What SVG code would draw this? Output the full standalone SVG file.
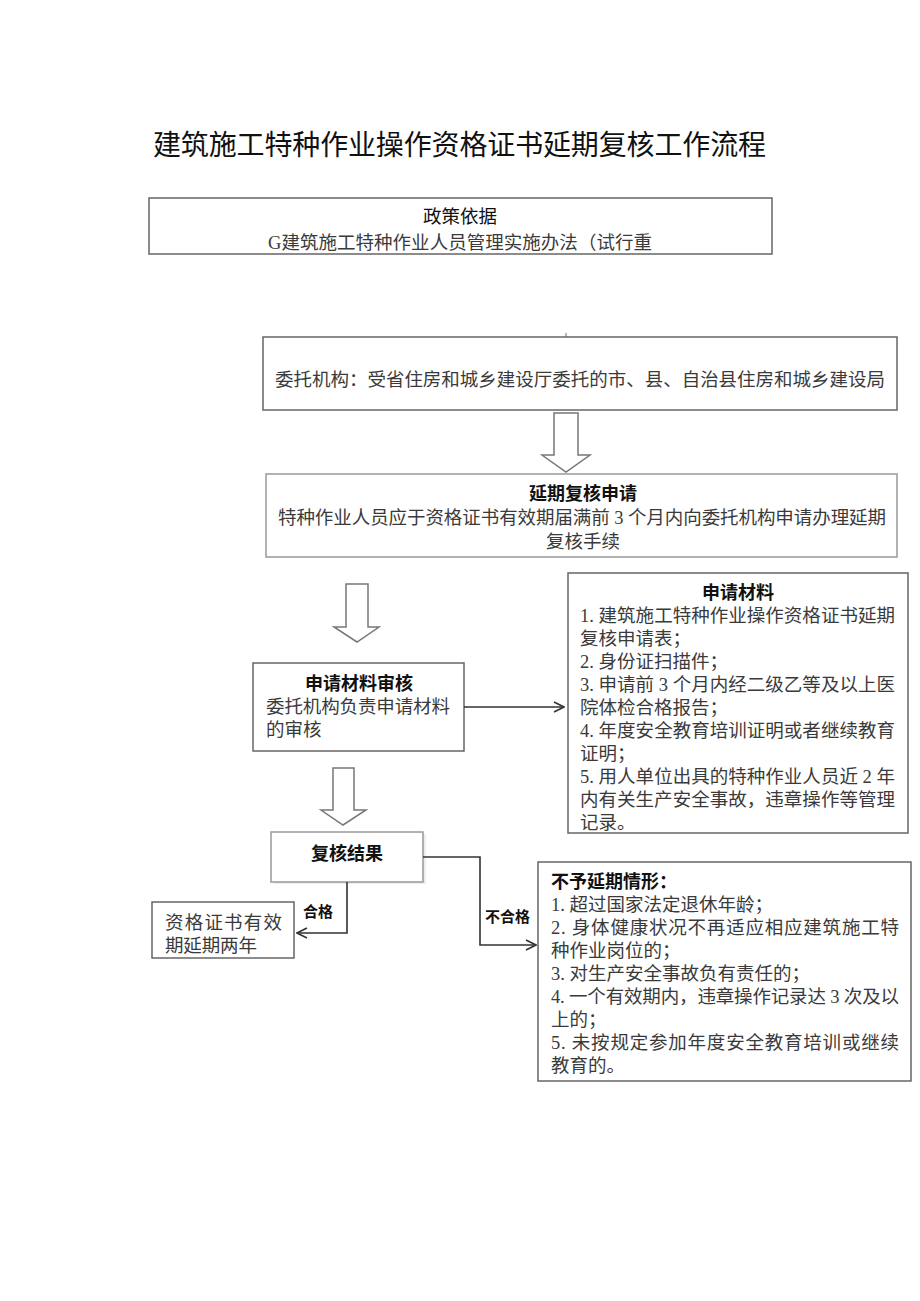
<svg xmlns="http://www.w3.org/2000/svg" width="920" height="1301" viewBox="0 0 920 1301">
<defs>
<marker id="chev" viewBox="0 0 12 12" refX="11" refY="6" markerWidth="12" markerHeight="12" markerUnits="userSpaceOnUse" orient="auto">
<path d="M1,1 L11,6 L1,11" fill="none" stroke="#333" stroke-width="1.6"/>
</marker>
</defs>
<style>
.box{fill:#fff;stroke:#666;stroke-width:1.5}
.lbox{fill:#fff;stroke:#999;stroke-width:1.5}
.blk{fill:#fff;stroke:#777;stroke-width:1.5}
.body{font-family:"Liberation Serif","Noto Sans CJK SC",serif;font-size:18.5px;fill:#3a3a3a}
.head{font-family:"Liberation Sans","Noto Sans CJK SC",sans-serif;font-size:18px;font-weight:bold;fill:#111}
.lab{font-family:"Liberation Sans","Noto Sans CJK SC",sans-serif;font-size:15px;font-weight:bold;fill:#111}
.title{font-family:"Liberation Sans","Noto Sans CJK SC",sans-serif;font-size:28px;fill:#111}
.conn{fill:none;stroke:#333;stroke-width:1.6}
</style>
<rect width="920" height="1301" fill="#fff"/>
<text class="title" x="153" y="155" textLength="613">建筑施工特种作业操作资格证书延期复核工作流程</text>

<g id="policy">
<rect class="box" x="149" y="198" width="623" height="56"/>
<text x="460" y="223" text-anchor="middle" font-family="Liberation Sans, Noto Sans CJK SC, sans-serif" font-size="18.5" fill="#111">政策依据</text>
<text class="body" x="268" y="249" textLength="384">G建筑施工特种作业人员管理实施办法（试行重</text>
</g>

<g id="agency">
<rect class="box" x="263" y="337" width="634" height="73"/>
<line x1="566" y1="333" x2="566" y2="337" stroke="#666" stroke-width="1"/>
<text class="body" x="275" y="386" textLength="610">委托机构：受省住房和城乡建设厅委托的市、县、自治县住房和城乡建设局</text>
</g>

<g id="apply">
<rect class="lbox" x="266" y="474" width="631" height="83"/>
<text class="head" x="583" y="500" text-anchor="middle">延期复核申请</text>
<text class="body" x="278" y="524" textLength="608">特种作业人员应于资格证书有效期届满前 3 个月内向委托机构申请办理延期</text>
<text class="body" x="583" y="548" text-anchor="middle">复核手续</text>
</g>

<g id="review">
<rect class="box" x="253" y="663" width="211" height="88"/>
<text class="head" x="359" y="690" text-anchor="middle">申请材料审核</text>
<text class="body" x="266" y="713" textLength="184">委托机构负责申请材料</text>
<text class="body" x="266" y="736">的审核</text>
</g>

<g id="materials">
<rect class="box" x="568" y="573" width="340" height="260"/>
<text class="head" x="738" y="599" text-anchor="middle">申请材料</text>
<g class="body">
<text x="580" y="622" textLength="315">1. 建筑施工特种作业操作资格证书延期</text>
<text x="580" y="645">复核申请表；</text>
<text x="580" y="668">2. 身份证扫描件；</text>
<text x="580" y="691" textLength="315">3. 申请前 3 个月内经二级乙等及以上医</text>
<text x="580" y="714">院体检合格报告；</text>
<text x="580" y="737" textLength="315">4. 年度安全教育培训证明或者继续教育</text>
<text x="580" y="760">证明；</text>
<text x="580" y="783" textLength="315">5. 用人单位出具的特种作业人员近 2 年</text>
<text x="580" y="806" textLength="315">内有关生产安全事故，违章操作等管理</text>
<text x="580" y="829">记录。</text>
</g>
</g>

<g id="result">
<rect x="274" y="834" width="152" height="50" fill="#eee" stroke="none"/>
<rect class="lbox" x="271" y="832" width="152" height="50"/>
<text class="head" x="347" y="860" text-anchor="middle">复核结果</text>
</g>

<g id="extend">
<rect class="box" x="152" y="902" width="142" height="56"/>
<text class="body" x="165" y="929" textLength="117">资格证书有效</text>
<text class="body" x="165" y="952" textLength="92">期延期两年</text>
</g>

<g id="reject">
<rect class="box" x="538" y="862" width="373" height="219"/>
<text class="head" x="551" y="888">不予延期情形：</text>
<g class="body">
<text x="551" y="911">1. 超过国家法定退休年龄；</text>
<text x="551" y="934" textLength="348">2. 身体健康状况不再适应相应建筑施工特</text>
<text x="551" y="957">种作业岗位的；</text>
<text x="551" y="980">3. 对生产安全事故负有责任的；</text>
<text x="551" y="1003" textLength="348">4. 一个有效期内，违章操作记录达 3 次及以</text>
<text x="551" y="1026">上的；</text>
<text x="551" y="1049" textLength="348">5. 未按规定参加年度安全教育培训或继续</text>
<text x="551" y="1072">教育的。</text>
</g>
</g>

<g id="connectors">
<path class="blk" d="M554,413 H578 V455 H590 L566,472 L542,455 H554 Z"/>
<path class="blk" d="M346,584 H368 V627 H379 L357,642 L334,627 H346 Z"/>
<path class="blk" d="M333,768 H354 V810 H366 L343,825 L321,810 H333 Z"/>
<path class="conn" d="M464,707 H564" marker-end="url(#chev)"/>
<path class="conn" d="M347,882 V933 H297" marker-end="url(#chev)"/>
<path class="conn" d="M423,857 H480 V945 H536" marker-end="url(#chev)"/>
<text class="lab" x="303" y="917">合格</text>
<text class="lab" x="485" y="922">不合格</text>
</g>
</svg>
